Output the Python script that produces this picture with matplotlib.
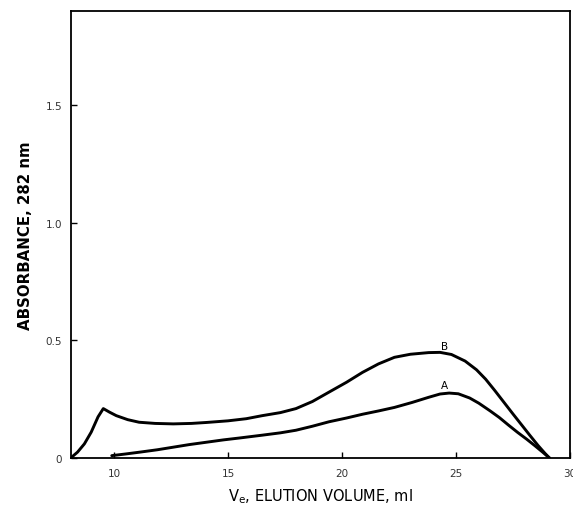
import matplotlib
matplotlib.use("Agg")
import matplotlib.pyplot as plt

# Curve B (upper)
b_x = [8.1, 8.4, 8.7, 9.0, 9.3, 9.53, 9.8, 10.1, 10.6, 11.1, 11.8, 12.6, 13.4, 14.05,
       15.0, 15.8, 16.5, 17.3, 17.98, 18.7, 19.43, 20.2, 20.9, 21.6, 22.3, 23.0, 23.8,
       24.3, 24.8, 25.4, 25.9, 26.3, 26.7, 27.1, 27.5, 27.9, 28.25, 28.6, 28.9, 29.1]
b_y = [0.0, 0.025, 0.06, 0.11, 0.175, 0.21, 0.195, 0.18, 0.163, 0.152, 0.147, 0.145,
       0.147, 0.151, 0.158, 0.167, 0.18, 0.193, 0.21, 0.24, 0.28, 0.322, 0.364, 0.40,
       0.428, 0.441, 0.448, 0.449, 0.44, 0.412, 0.375, 0.335, 0.287, 0.237, 0.187,
       0.138, 0.095, 0.053, 0.02, 0.0]

# Curve A (lower)
a_x = [9.9, 10.5, 11.14, 11.9, 12.6, 13.3, 14.05, 14.8, 15.5, 16.5, 17.3, 17.98, 18.7,
       19.43, 20.2, 20.9, 21.6, 22.3, 23.07, 23.8, 24.3, 24.7, 25.1, 25.6, 26.0, 26.5,
       26.9, 27.3, 27.7, 28.1, 28.45, 28.8, 29.1]
a_y = [0.01, 0.017, 0.025, 0.035, 0.046, 0.057, 0.067, 0.077, 0.085, 0.097, 0.107,
       0.118, 0.135, 0.154, 0.17, 0.186, 0.2, 0.215, 0.236, 0.258, 0.272, 0.276, 0.273,
       0.255, 0.233, 0.2, 0.172, 0.14, 0.109, 0.08, 0.053, 0.025, 0.0]

x_ticks = [10, 15, 20, 25, 30]
x_ticklabels = ["10", "15", "20", "25", "30"]
y_ticks = [0, 0.5, 1.0, 1.5]
y_ticklabels = ["0", "0.5", "1.0", "1.5"]

fig = plt.figure(figsize=(5.73, 5.06), dpi=100)
ax = fig.add_axes([70.7/573, 1 - 459/506, (570 - 70.7)/573, (459 - 12)/506])

ax.plot(b_x, b_y, color="black", lw=2.1, solid_joinstyle="round", solid_capstyle="round")
ax.plot(a_x, a_y, color="black", lw=2.1, solid_joinstyle="round", solid_capstyle="round")

ax.text(24.5, 0.478, "B", fontsize=7.5, ha="center", va="center")
ax.text(24.5, 0.31, "A", fontsize=7.5, ha="center", va="center")

ax.set_xlim(8.1, 29.95)
ax.set_ylim(0, 1.9)
ax.set_xticks(x_ticks)
ax.set_xticklabels(x_ticklabels)
ax.set_yticks(y_ticks)
ax.set_yticklabels(y_ticklabels)
ax.tick_params(direction="in", length=4, width=1, labelsize=7.5, colors="black",
               labelcolor="#333333")
ax.tick_params(axis="x", pad=7)
ax.tick_params(axis="y", pad=6)
for s in ax.spines.values():
    s.set_linewidth(1.3)

ax.set_ylabel("ABSORBANCE, 282 nm", fontsize=10.8, fontweight="bold", labelpad=9)
ax.set_xlabel(r"V$_\mathregular{e}$, ELUTION VOLUME, ml", fontsize=10.5, labelpad=6)

fig.savefig("out.png", dpi=100)
